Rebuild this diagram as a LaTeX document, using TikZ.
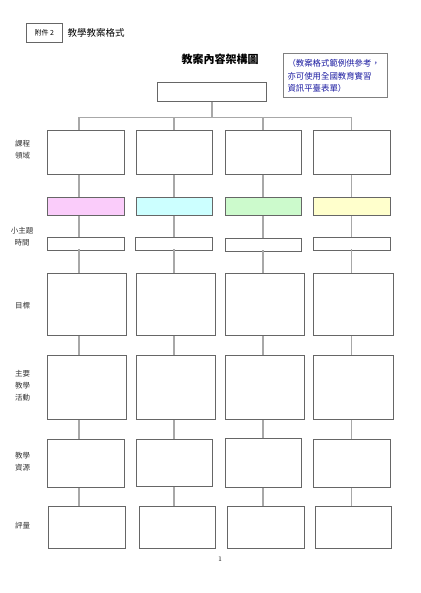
\documentclass[tikz,border=0pt]{standalone}
\usepackage{fontspec}
\newfontfamily\cjk{Noto Sans CJK TC}
\definecolor{linegray}{HTML}{A8A8A8}
\definecolor{boxgray}{HTML}{666666}
\definecolor{notegray}{HTML}{808080}
\definecolor{noteblue}{HTML}{1A1AA0}
\definecolor{fillpink}{HTML}{FACCFA}
\definecolor{fillcyan}{HTML}{CCFFFF}
\definecolor{fillgreen}{HTML}{CCFACC}
\definecolor{fillyellow}{HTML}{FFFFCC}
\begin{document}
\begin{tikzpicture}[x=1pt, y=-1pt, every node/.style={font=\cjk}]
    \tikzstyle{cell}=[rectangle, draw=boxgray, line width=0.8pt, anchor=north west, inner sep=0pt]
    \tikzstyle{link}=[draw=linegray, line width=1.2pt]
    \tikzstyle{side_label}=[font=\cjk\fontsize{7.5}{12}\selectfont, align=center, text=black!80]
    \useasboundingbox (0,0) rectangle (420,593);

    % --- header ---
    \node[cell, minimum width=35.4pt, minimum height=19pt] (tag) at (26.3,23.3) {};
    \node[font=\cjk\fontsize{7}{8}\selectfont] at (tag.center) {附件 2};
    \node[font=\cjk\fontsize{9.5}{11}\selectfont, anchor=west] (head) at (64,33) {教學教案格式};
    \node[font=\cjk\bfseries\fontsize{11}{13}\selectfont] (title) at (220,59) {教案內容架構圖};
    \node[cell, draw=notegray, minimum width=104pt, minimum height=43.4pt] (note) at (282.7,53.3) {};
    \node[font=\cjk\fontsize{8.4}{12.5}\selectfont, text=noteblue, align=left, anchor=north west]
      at (284,56) {（教案格式範例供參考，\\亦可使用全國教育實習\\資訊平臺表單）};

    % --- top box and hub ---
    \node[cell, minimum width=108.4pt, minimum height=19pt] (top) at (157.3,82.3) {};
    \coordinate (c1) at (79,117.3);
    \coordinate (c2) at (174,117.3);
    \coordinate (c3) at (263,117.3);
    \coordinate (c4) at (351.3,117.3);
    \draw[link] (top.south) -- (top.south |- c1);
    \draw[link] (c1) -- (c4);

    % --- row 1: course domain ---
    \node[cell, minimum width=76.4pt, minimum height=44.3pt] (r1c1) at (47.3,130) {};
    \node[cell, minimum width=76.4pt, minimum height=44.3pt] (r1c2) at (136,130) {};
    \node[cell, minimum width=76.4pt, minimum height=44.3pt] (r1c3) at (224.7,130) {};
    \node[cell, minimum width=76.4pt, minimum height=44.3pt] (r1c4) at (313.3,130) {};

    % --- row 2: coloured bars ---
    \node[cell, fill=fillpink, minimum width=76.4pt, minimum height=18.6pt] (r2c1) at (47.3,196.7) {};
    \node[cell, fill=fillcyan, minimum width=76.4pt, minimum height=18.6pt] (r2c2) at (136,196.7) {};
    \node[cell, fill=fillgreen, minimum width=76.4pt, minimum height=18.6pt] (r2c3) at (224.7,196.7) {};
    \node[cell, fill=fillyellow, minimum width=76.4pt, minimum height=18.6pt] (r2c4) at (313.3,196.7) {};

    % --- row 3: sub-topic / time ---
    \node[cell, minimum width=76.4pt, minimum height=13pt] (r3c1) at (47.3,237.3) {};
    \node[cell, minimum width=76.4pt, minimum height=13pt] (r3c2) at (135.3,237.3) {};
    \node[cell, minimum width=76.4pt, minimum height=13pt] (r3c3) at (224.7,238.3) {};
    \node[cell, minimum width=76.4pt, minimum height=13pt] (r3c4) at (313.3,237.3) {};

    % --- row 4: goals ---
    \node[cell, minimum width=79pt, minimum height=62pt] (r4c1) at (47.3,273.3) {};
    \node[cell, minimum width=78.7pt, minimum height=62pt] (r4c2) at (136,273.3) {};
    \node[cell, minimum width=79pt, minimum height=62pt] (r4c3) at (224.7,273.3) {};
    \node[cell, minimum width=79.4pt, minimum height=62pt] (r4c4) at (313.3,273.3) {};

    % --- row 5: main activities ---
    \node[cell, minimum width=79pt, minimum height=63.7pt] (r5c1) at (47.3,355.3) {};
    \node[cell, minimum width=79.3pt, minimum height=63.7pt] (r5c2) at (136,355.3) {};
    \node[cell, minimum width=79.3pt, minimum height=63.7pt] (r5c3) at (224.7,355.3) {};
    \node[cell, minimum width=79.4pt, minimum height=63.7pt] (r5c4) at (313.3,355.3) {};

    % --- row 6: resources ---
    \node[cell, minimum width=76.4pt, minimum height=48pt] (r6c1) at (47.3,439.3) {};
    \node[cell, minimum width=76.3pt, minimum height=47pt] (r6c2) at (136,439.3) {};
    \node[cell, minimum width=76.6pt, minimum height=49pt] (r6c3) at (224.7,438.3) {};
    \node[cell, minimum width=76.7pt, minimum height=48pt] (r6c4) at (313.3,439.3) {};

    % --- row 7: assessment ---
    \node[cell, minimum width=76.4pt, minimum height=42pt] (r7c1) at (48.3,506.3) {};
    \node[cell, minimum width=76.3pt, minimum height=42pt] (r7c2) at (138.7,506.3) {};
    \node[cell, minimum width=76.4pt, minimum height=42pt] (r7c3) at (227.3,506.3) {};
    \node[cell, minimum width=76.6pt, minimum height=42pt] (r7c4) at (314.7,506.3) {};

    % connectors, one column at a time
    \draw[link] (c1) -- (r1c1.north -| c1) (r1c1.south -| c1) -- (r2c1.north -| c1)
      (r2c1.south -| c1) -- (r3c1.north -| c1) ([yshift=1.7pt]r3c1.south -| c1) -- (r4c1.north -| c1)
      (r4c1.south -| c1) -- (r5c1.north -| c1) (r5c1.south -| c1) -- (r6c1.north -| c1)
      (r6c1.south -| c1) -- (r7c1.north -| c1);
    \draw[link] (c2) -- (r1c2.north -| c2) (r1c2.south -| c2) -- (r2c2.north -| c2)
      (r2c2.south -| c2) -- (r3c2.north -| c2) ([yshift=1.7pt]r3c2.south -| c2) -- (r4c2.north -| c2)
      (r4c2.south -| c2) -- (r5c2.north -| c2) (r5c2.south -| c2) -- (r6c2.north -| c2)
      (r6c2.south -| c2) -- (r7c2.north -| c2);
    \draw[link] (c3) -- (r1c3.north -| c3) (r1c3.south -| c3) -- (r2c3.north -| c3)
      (r2c3.south -| c3) -- (r3c3.north -| c3) ([yshift=1.7pt]r3c3.south -| c3) -- (r4c3.north -| c3)
      (r4c3.south -| c3) -- (r5c3.north -| c3) (r5c3.south -| c3) -- (r6c3.north -| c3)
      (r6c3.south -| c3) -- (r7c3.north -| c3);
    \draw[link] (c4) -- (r1c4.north -| c4) (r1c4.south -| c4) -- (r2c4.north -| c4)
      (r2c4.south -| c4) -- (r3c4.north -| c4) ([yshift=1.7pt]r3c4.south -| c4) -- (r4c4.north -| c4)
      (r4c4.south -| c4) -- (r5c4.north -| c4) (r5c4.south -| c4) -- (r6c4.north -| c4)
      (r6c4.south -| c4) -- (r7c4.north -| c4);

    % --- side labels ---
    \node[side_label] (lab1) at (22.7,150) {課程\\領域};
    \node[side_label] (lab2) at (22,236.7) {小主題\\時間};
    \node[side_label] (lab3) at (22.7,306) {目標};
    \node[side_label] (lab4) at (22.7,385.2) {主要\\教學\\活動};
    \node[side_label] (lab5) at (22.7,461.8) {教學\\資源};
    \node[side_label] (lab6) at (22.7,525.3) {評量};

    % page number
    \node[font=\fontsize{7}{8}\selectfont] (page) at (220,559.3) {1};
  \end{tikzpicture}
\end{document}
